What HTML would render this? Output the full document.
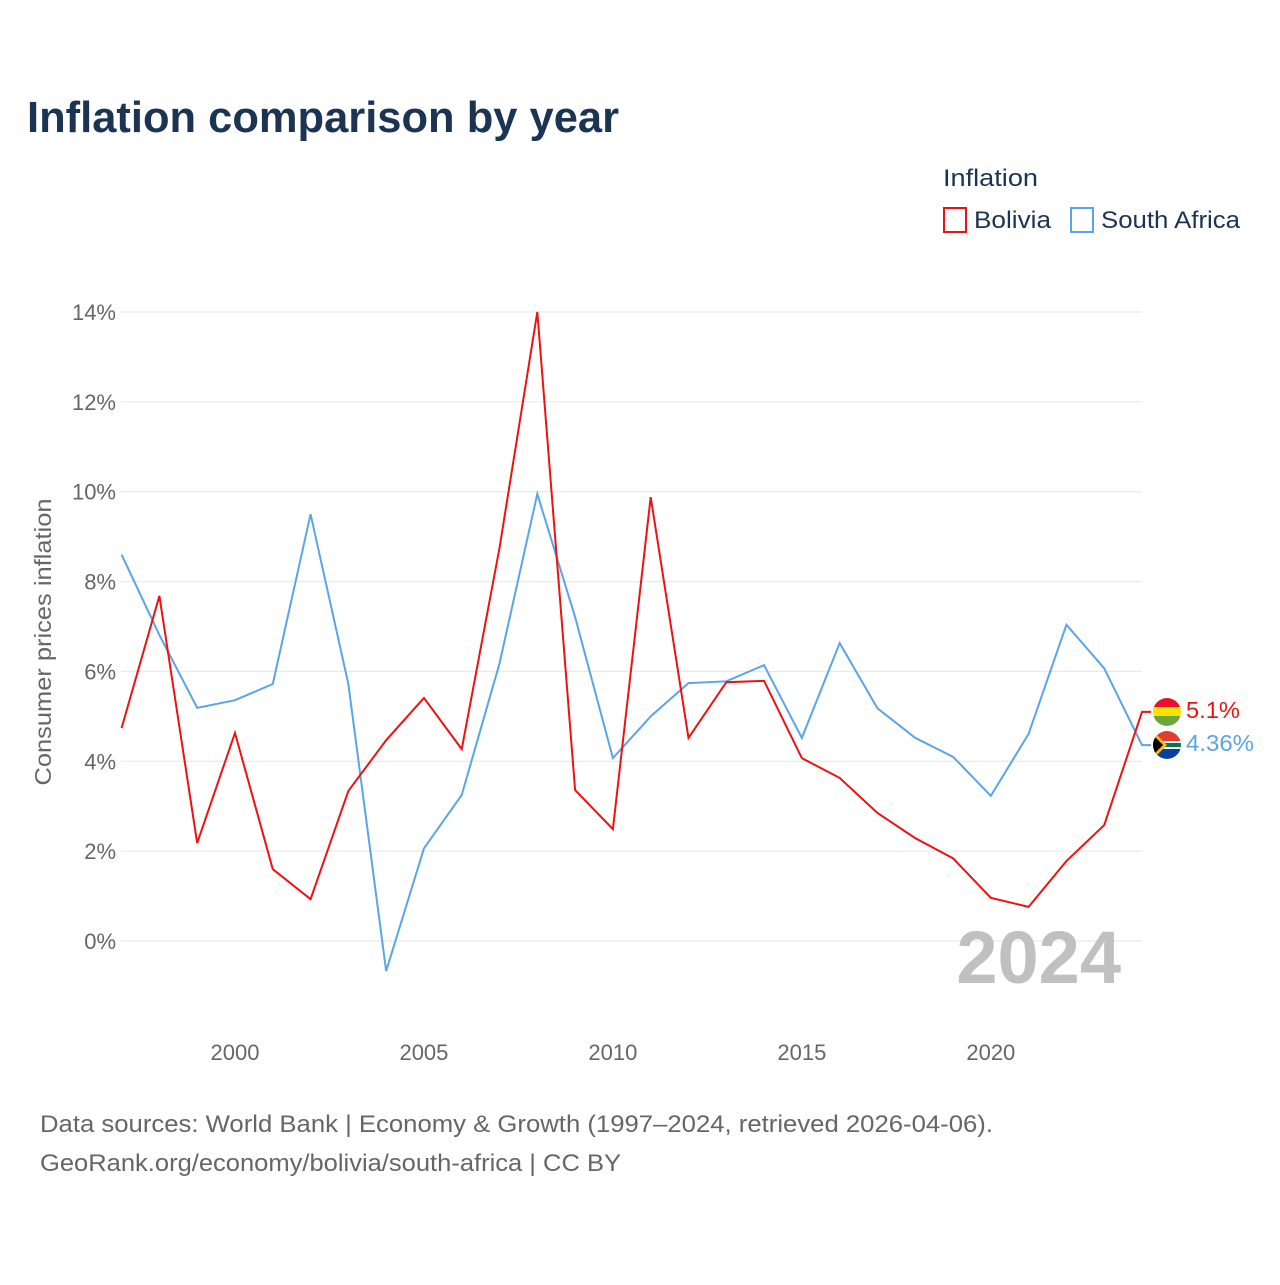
<!DOCTYPE html>
<html><head><meta charset="utf-8">
<style>
body{margin:0;background:#fff;font-family:"Liberation Sans",sans-serif;}
svg text{font-family:"Liberation Sans",sans-serif;}
</style></head>
<body>
<svg id="chart" width="1280" height="1280" viewBox="0 0 1280 1280">
<text x="27" y="132" font-size="44" font-weight="bold" fill="#1b3454" textLength="592" lengthAdjust="spacingAndGlyphs">Inflation comparison by year</text>
<g>
<text x="943" y="186" font-size="24" fill="#1b3454" textLength="95" lengthAdjust="spacingAndGlyphs">Inflation</text>
<g><rect x="944" y="208" width="22" height="24" fill="none" stroke="#ee1111" stroke-width="2"/><text x="974" y="228" font-size="24" fill="#1b3454" textLength="77" lengthAdjust="spacingAndGlyphs">Bolivia</text></g>
<g><rect x="1071" y="208" width="22" height="24" fill="none" stroke="#5aa5e8" stroke-width="2"/><text x="1101" y="228" font-size="24" fill="#1b3454" textLength="139" lengthAdjust="spacingAndGlyphs">South Africa</text></g>
</g>
<g id="grid"></g>
<g id="yticks"></g>
<g id="xticks"></g>
<text transform="translate(51,642) rotate(-90)" text-anchor="middle" font-size="23" fill="#666" textLength="287" lengthAdjust="spacingAndGlyphs">Consumer prices inflation</text>
<text x="1121" y="983" text-anchor="end" font-size="74" font-weight="bold" fill="#c0c0c0">2024</text>
<g id="series"></g>
<g>
<g><clipPath id="c1"><circle cx="1167" cy="712" r="14"/></clipPath><g clip-path="url(#c1)"><rect x="1153" y="698" width="28" height="10" fill="#e8112d"/><rect x="1153" y="707" width="28" height="10" fill="#f9e300"/><rect x="1153" y="716" width="28" height="10" fill="#6ea63c"/></g></g>
<g><clipPath id="c2"><circle cx="1167" cy="745" r="14"/></clipPath><g clip-path="url(#c2)"><rect x="1153" y="731" width="28" height="14" fill="#e03c31"/><rect x="1153" y="745" width="28" height="14" fill="#0a3fa0"/><rect x="1153" y="741" width="28" height="8" fill="#fff"/><rect x="1153" y="743" width="28" height="4" fill="#007a4d"/><polygon points="1153,731 1167,745 1153,759" fill="#ffb612"/><polygon points="1153,735 1163,745 1153,755" fill="#000"/></g></g>
<text x="1186" y="718" font-size="23" fill="#ee1111" textLength="54" lengthAdjust="spacingAndGlyphs">5.1%</text>
<text x="1186" y="751" font-size="23" fill="#5aa5e8" textLength="68" lengthAdjust="spacingAndGlyphs">4.36%</text>
</g>
<text x="40" y="1132" font-size="24" fill="#666" textLength="953" lengthAdjust="spacingAndGlyphs">Data sources: World Bank | Economy &amp; Growth (1997–2024, retrieved 2026-04-06).</text>
<text x="40" y="1171" font-size="24" fill="#666" textLength="581" lengthAdjust="spacingAndGlyphs">GeoRank.org/economy/bolivia/south-africa | CC BY</text>
</svg>
<script>
const years=[1997,1998,1999,2000,2001,2002,2003,2004,2005,2006,2007,2008,2009,2010,2011,2012,2013,2014,2015,2016,2017,2018,2019,2020,2021,2022,2023,2024];
const bolivia=[4.74,7.68,2.18,4.63,1.60,0.93,3.34,4.47,5.41,4.27,8.75,14.0,3.36,2.49,9.88,4.52,5.76,5.79,4.07,3.63,2.85,2.29,1.84,0.96,0.76,1.78,2.58,5.1];
const southAfrica=[8.6,6.81,5.19,5.36,5.72,9.5,5.72,-0.67,2.06,3.25,6.18,9.95,7.21,4.07,5.0,5.74,5.78,6.14,4.52,6.63,5.18,4.52,4.10,3.23,4.61,7.04,6.07,4.36];
const yTicks=[0,2,4,6,8,10,12,14];
const xTicks=[2000,2005,2010,2015,2020];
const NS="http://www.w3.org/2000/svg";
const x=v=>121.6+(v-1997)*(1142-121.6)/27;
const y=v=>941-v*(941-312)/14;
const grid=document.getElementById('grid'),yt=document.getElementById('yticks'),xt=document.getElementById('xticks'),ser=document.getElementById('series');
yTicks.forEach(t=>{
 const l=document.createElementNS(NS,'line');
 l.setAttribute('x1',121);l.setAttribute('x2',1142);l.setAttribute('y1',y(t));l.setAttribute('y2',y(t));
 l.setAttribute('stroke','#e6e6e6');l.setAttribute('stroke-width','1');
 
 
 grid.appendChild(l);
 const tx=document.createElementNS(NS,'text');
 tx.setAttribute('x',116);tx.setAttribute('y',y(t)+8);tx.setAttribute('text-anchor','end');
 tx.setAttribute('font-size','22');tx.setAttribute('fill','#666');tx.textContent=t+'%';
 
 
 yt.appendChild(tx);
});
xTicks.forEach(t=>{
 const tx=document.createElementNS(NS,'text');
 tx.setAttribute('x',x(t));tx.setAttribute('y',1060);tx.setAttribute('text-anchor','middle');
 tx.setAttribute('font-size','22');tx.setAttribute('fill','#666');tx.textContent=t;
 
 
 xt.appendChild(tx);
});
function line(vals,color,name){
 const pts=vals.map((v,i)=>x(years[i])+','+y(v));
 pts.push((x(years[years.length-1])+9)+','+y(vals[vals.length-1]));
 const p=document.createElementNS(NS,'polyline');
 p.setAttribute('points',pts.join(' '));
 p.setAttribute('fill','none');p.setAttribute('stroke',color);p.setAttribute('stroke-width','2');
 
 
 ser.appendChild(p);
}
line(southAfrica,'#5aa5e8','south-africa-line');
line(bolivia,'#ee1111','bolivia-line');
</script>
</body></html>
